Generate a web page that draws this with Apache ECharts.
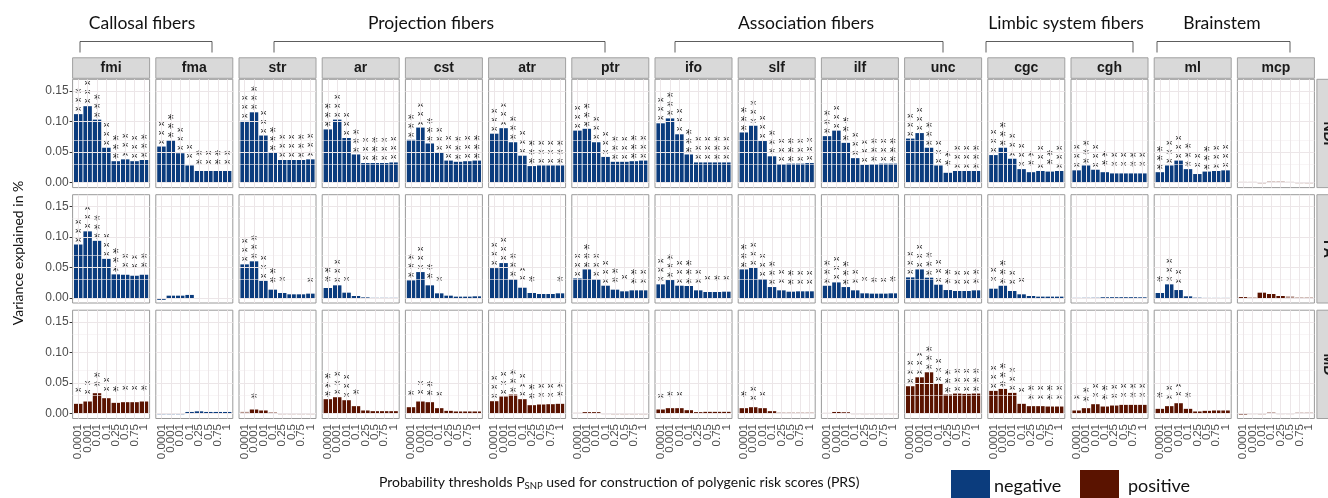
<!DOCTYPE html>
<html>
<head>
<meta charset="utf-8">
<script src="https://cdn.jsdelivr.net/npm/echarts@6/dist/echarts.min.js"></script>
<style>
html,body{margin:0;padding:0;background:#fff;}
#chart{width:1328px;height:498px;}
</style>
</head>
<body>
<div id="chart"></div>
<script>
// ---------------- DATA ----------------
const thresholds = ['0.0001','0.001','0.01','0.1','0.25','0.5','0.75','1'];
const tracts = ['fmi','fma','str','ar','cst','atr','ptr','ifo','slf','ilf','unc','cgc','cgh','ml','mcp'];
const measures = ['NDI','FA','MD'];
const groupNames = ['Callosal fibers','Projection fibers','Association fibers','Limbic system fibers','Brainstem'];
const signNames = ['negative','positive'];

// variance explained (%), per tract, per threshold
const ndiValues = [
  [0.112,0.125,0.103,0.057,0.035,0.038,0.035,0.037],
  [0.059,0.069,0.048,0.028,0.019,0.019,0.019,0.019],
  [0.101,0.115,0.077,0.049,0.037,0.037,0.037,0.038],
  [0.087,0.103,0.073,0.046,0.032,0.032,0.032,0.033],
  [0.070,0.090,0.064,0.049,0.036,0.034,0.035,0.036],
  [0.080,0.089,0.066,0.044,0.027,0.028,0.028,0.028],
  [0.085,0.088,0.066,0.042,0.034,0.034,0.035,0.036],
  [0.097,0.105,0.079,0.046,0.033,0.033,0.033,0.033],
  [0.082,0.093,0.068,0.043,0.030,0.031,0.031,0.032],
  [0.076,0.085,0.065,0.040,0.029,0.030,0.031,0.031],
  [0.072,0.081,0.057,0.028,0.016,0.019,0.019,0.019],
  [0.045,0.057,0.039,0.022,0.017,0.019,0.018,0.019],
  [0.020,0.028,0.021,0.017,0.015,0.015,0.015,0.015],
  [0.017,0.028,0.036,0.022,0.014,0.018,0.019,0.020],
  [0.0012,0.0012,0.0003,0.0018,0.0018,0.0012,0.0005,0.0004]
];
const faValues = [
  [0.0875,0.109,0.0935,0.064,0.0386,0.038,0.0364,0.038],
  [-0.003,0.0038,0.0038,0.005,-0.001,-0.001,-0.001,-0.001],
  [0.055,0.060,0.028,0.0136,0.0082,0.006,0.006,0.0071],
  [0.0163,0.0207,0.0087,0.0033,0.001,0.0005,0.0005,0.0005],
  [0.0288,0.0424,0.0207,0.0076,0.0038,0.0022,0.0022,0.0027],
  [0.0489,0.0571,0.0304,0.0168,0.0082,0.0065,0.0065,0.0076],
  [0.032,0.0467,0.0304,0.0201,0.0136,0.0109,0.0125,0.0125],
  [0.0223,0.0293,0.0201,0.0196,0.0125,0.0098,0.0098,0.0103],
  [0.0467,0.050,0.031,0.0179,0.0125,0.0103,0.0109,0.0109],
  [0.020,0.0255,0.0179,0.0125,0.0076,0.0071,0.0071,0.0076],
  [0.0337,0.0467,0.0332,0.0217,0.013,0.0114,0.0114,0.0125],
  [0.0152,0.020,0.0114,0.006,0.0033,0.0022,0.0022,0.0022],
  [0.0004,0.0006,0.0008,0.0012,0.0013,0.0013,0.0013,0.0011],
  [0.0082,0.0223,0.013,0.0027,0.001,0.0003,0.0003,0.0003],
  [0.0015,0.001,0.0087,0.0065,0.0033,0.0027,0.001,0.001]
];
const mdValues = [
  [0.0158,0.0196,0.0332,0.025,0.0174,0.0185,0.0185,0.0196],
  [-0.0015,-0.0015,-0.001,0.0025,0.0035,0.0025,0.0025,0.0025],
  [0.0027,0.0065,0.0049,0.0022,0.0003,0.0003,0.0003,0.0003],
  [0.0234,0.0266,0.0217,0.012,0.0049,0.0038,0.0038,0.0038],
  [0.0103,0.0196,0.0185,0.0087,0.0043,0.0033,0.0033,0.0033],
  [0.0201,0.0277,0.031,0.0234,0.0136,0.0147,0.0152,0.0158],
  [0.0011,0.0022,0.0022,0.0005,0.0002,0.0002,0.0002,0.0002],
  [0.0065,0.0087,0.0087,0.0054,0.0022,0.0027,0.0027,0.0027],
  [0.0087,0.0103,0.0087,0.0038,0.0016,0.0016,0.0016,0.0016],
  [0.001,0.0025,0.002,0.0005,0.0004,0.0004,0.0004,0.0004],
  [0.0446,0.0592,0.0674,0.0489,0.031,0.0326,0.0321,0.0326],
  [0.037,0.0402,0.0337,0.0158,0.012,0.012,0.0114,0.0114],
  [0.0049,0.0087,0.0152,0.0114,0.013,0.0141,0.0141,0.0141],
  [0.0076,0.012,0.0168,0.0076,0.0033,0.0043,0.0049,0.0049],
  [-0.0012,0.0005,0.0002,0.002,0.0005,0.0005,0.0015,0.0015]
];

// number of significance stars
const ndiStars = [
  [3,3,3,3,3,3,3,3],[3,3,3,2,2,2,2,2],[3,3,3,3,3,3,3,3],[3,3,3,3,3,3,3,3],
  [3,3,3,3,3,3,3,3],[3,3,3,3,3,3,3,3],[3,3,3,3,3,3,3,3],[3,3,3,3,3,3,3,3],
  [3,3,3,3,3,3,3,3],[3,3,3,3,3,3,3,3],[3,3,3,3,2,3,3,3],[3,3,3,3,2,3,2,3],
  [3,3,3,2,2,2,2,2],[3,3,3,3,2,3,3,3],[0,0,0,0,0,0,0,0]
];
const faStars = [
  [3,3,3,3,3,2,2,2],[0,0,0,0,0,0,0,0],[3,3,3,2,1,0,0,1],[2,3,1,0,0,0,0,0],
  [3,3,2,1,0,0,0,0],[3,3,3,2,1,0,0,1],[3,3,3,3,2,1,2,2],[3,3,3,3,2,1,1,1],
  [3,3,3,3,2,2,2,2],[3,3,3,2,1,1,1,1],[3,3,3,3,2,2,2,2],[2,3,2,1,0,0,0,0],
  [0,0,0,0,0,0,0,0],[1,3,2,0,0,0,0,0],[0,0,0,0,0,0,0,0]
];
const mdStars = [
  [1,2,2,2,1,1,1,1],[0,0,0,0,0,0,0,0],[0,1,0,0,0,0,0,0],[3,3,3,1,0,0,0,0],
  [1,2,2,1,0,0,0,0],[3,3,3,3,2,2,2,2],[0,0,0,0,0,0,0,0],[1,1,1,0,0,0,0,0],
  [1,2,1,0,0,0,0,0],[0,0,0,0,0,0,0,0],[3,3,3,3,3,3,3,3],[3,3,3,1,2,2,2,2],
  [1,2,2,2,2,2,2,2],[1,2,2,1,0,0,0,0],[0,0,0,0,0,0,0,0]
];

// nominal significance (1 = solid bar, 0 = faded bar)
const ndiNominal = [
  [1,1,1,1,1,1,1,1],[1,1,1,1,1,1,1,1],[1,1,1,1,1,1,1,1],[1,1,1,1,1,1,1,1],
  [1,1,1,1,1,1,1,1],[1,1,1,1,1,1,1,1],[1,1,1,1,1,1,1,1],[1,1,1,1,1,1,1,1],
  [1,1,1,1,1,1,1,1],[1,1,1,1,1,1,1,1],[1,1,1,1,1,1,1,1],[1,1,1,1,1,1,1,1],
  [1,1,1,1,1,1,1,1],[1,1,1,1,1,1,1,1],[0,0,0,0,0,0,0,0]
];
const faNominal = [
  [1,1,1,1,1,1,1,1],[1,1,1,1,0,0,0,0],[1,1,1,1,1,1,1,1],[1,1,1,1,1,0,0,0],
  [1,1,1,1,1,1,1,1],[1,1,1,1,1,1,1,1],[1,1,1,1,1,1,1,1],[1,1,1,1,1,1,1,1],
  [1,1,1,1,1,1,1,1],[1,1,1,1,1,1,1,1],[1,1,1,1,1,1,1,1],[1,1,1,1,1,1,1,1],
  [0,0,0,1,1,1,1,1],[1,1,1,1,0,0,0,0],[1,0,1,1,1,0,0,0]
];
const mdNominal = [
  [1,1,1,1,1,1,1,1],[0,0,0,1,1,1,1,1],[0,1,1,0,0,0,0,0],[1,1,1,1,1,1,1,1],
  [1,1,1,1,1,1,1,1],[1,1,1,1,1,1,1,1],[0,1,1,0,0,0,0,0],[1,1,1,1,1,1,1,1],
  [1,1,1,1,0,0,0,0],[0,1,1,0,0,0,0,0],[1,1,1,1,1,1,1,1],[1,1,1,1,1,1,1,1],
  [1,1,1,1,1,1,1,1],[1,1,1,1,1,1,1,1],[1,0,0,0,0,0,0,0]
];

// direction of association per tract
const ndiSign = ['negative','negative','negative','negative','negative','negative','negative','negative','negative','negative','negative','negative','negative','negative','positive'];
const faSign  = ['negative','negative','negative','negative','negative','negative','negative','negative','negative','negative','negative','negative','negative','negative','positive'];
const mdSign  = ['positive','negative','positive','positive','positive','positive','positive','positive','positive','positive','positive','positive','positive','positive','positive'];

const yTicks = [0, 0.05, 0.10, 0.15];
const yMinorTicks = [0.025, 0.075, 0.125];

// ---------------- LAYOUT / STYLE ----------------
const COLORS = { negative: '#0b3c7d', positive: '#5a1300' };
const L0 = 72.6, STEP = 83.2, PW = 77;
const TOPS = [79.3, 194.7, 310.2], PH = 108.3;
const YMIN = -0.0082, YMAX = 0.169;
const STAR_OFF = 0.0238;
const SANS = '"Liberation Sans", Arial, sans-serif';
const HUM = 'Lato, "Open Sans", sans-serif';

const valuesByMeasure = [ndiValues, faValues, mdValues];
const starsByMeasure = [ndiStars, faStars, mdStars];
const nominalByMeasure = [ndiNominal, faNominal, mdNominal];
const signByMeasure = [ndiSign, faSign, mdSign];

const grids = [], xAxes = [], yAxes = [], series = [];
const xIdx = thresholds.map((t, i) => i + 1);

function makeRender(color, withLabels) {
  return function (params, api) {
    const x = api.value(0), v = api.value(1), n = api.value(2), f = api.value(3);
    const a = api.coord([x - 0.45, Math.max(v, 0)]);
    const b = api.coord([x + 0.45, Math.min(v, 0)]);
    const children = [{
      type: 'rect',
      shape: { x: a[0], y: a[1], width: b[0] - a[0], height: Math.max(b[1] - a[1], 1) },
      style: { fill: color, opacity: f ? 1 : 0.45 }
    }];
    const c = api.coord([x, Math.max(v, 0) + STAR_OFF]);
    for (let k = 0; k < n; k++) {
      children.push({
        type: 'text',
        style: {
          text: '*', x: c[0], y: c[1] + (k - (n - 1) / 2) * 9 + 3.5,
          fill: '#1a1a1a', font: '12px "DejaVu Sans", sans-serif', align: 'center', verticalAlign: 'middle'
        }
      });
    }
    if (withLabels) {
      const base = api.coord([x, YMIN]);
      children.push({
        type: 'text', x: base[0], y: base[1] + 5.5, rotation: Math.PI / 2,
        style: {
          text: thresholds[params.dataIndex], x: 0, y: 0,
          fill: '#4d4d4d', font: '11.5px ' + SANS, align: 'right', verticalAlign: 'middle'
        }
      });
    }
    return { type: 'group', children };
  };
}

for (let r = 0; r < 3; r++) {
  for (let c = 0; c < tracts.length; c++) {
    const idx = r * tracts.length + c;
    grids.push({
      left: L0 + STEP * c, top: TOPS[r], width: PW, height: PH,
      show: true, borderColor: '#9a9a9a', borderWidth: 1, backgroundColor: '#fff'
    });
    xAxes.push({
      gridIndex: idx, type: 'value', min: 0.4, max: 8.6,
      splitLine: { show: false }, axisLine: { show: false },
      axisTick: r === 2 ? { show: true, customValues: xIdx, length: 3, lineStyle: { color: '#333', width: 1 } } : { show: false },
      axisLabel: { show: false }
    });
    yAxes.push({
      gridIndex: idx, type: 'value', min: YMIN, max: YMAX,
      splitLine: { show: false }, axisLine: { show: false },
      axisTick: c === 0 ? { show: true, customValues: yTicks, length: 3, lineStyle: { color: '#333', width: 1 } } : { show: false },
      axisLabel: c === 0 ? {
        show: true, customValues: yTicks, fontSize: 12, color: '#4d4d4d', fontFamily: SANS, margin: 4,
        showMinLabel: true, showMaxLabel: true,
        formatter: v => v.toFixed(2)
      } : { show: false }
    });
    const gridLines = [];
    yMinorTicks.forEach(v => gridLines.push({ yAxis: v, lineStyle: { color: '#f3eef0', width: 0.6, type: 'solid' } }));
    yTicks.forEach(v => gridLines.push({ yAxis: v, lineStyle: { color: '#ece6e8', width: 1, type: 'solid' } }));
    xIdx.forEach(v => gridLines.push({ xAxis: v, lineStyle: { color: '#ece6e8', width: 1, type: 'solid' } }));
    series.push({
      type: 'line', xAxisIndex: idx, yAxisIndex: idx, data: [], silent: true, z: 1,
      markLine: { silent: true, symbol: ['none', 'none'], label: { show: false }, animation: false, data: gridLines }
    });
    const vals = valuesByMeasure[r][c], st = starsByMeasure[r][c], nom = nominalByMeasure[r][c];
    series.push({
      type: 'custom', xAxisIndex: idx, yAxisIndex: idx, z: 3, silent: true, clip: false,
      name: signByMeasure[r][c],
      data: vals.map((v, i) => [i + 1, v, st[i], nom[i]]),
      renderItem: makeRender(COLORS[signByMeasure[r][c]], r === 2)
    });
  }
}

// ---------------- ANNOTATIONS ----------------
const graphics = [];
// top strips
tracts.forEach((t, c) => {
  const x = L0 + STEP * c;
  graphics.push({ type: 'rect', shape: { x: x, y: 57.8, width: PW, height: 20.5 },
    style: { fill: '#d9d9d9', stroke: '#a0a0a0', lineWidth: 1 }, z: 10 });
  graphics.push({ type: 'text', x: x + PW / 2, y: 68, z: 11,
    style: { text: t, font: 'bold 14px ' + SANS, fill: '#1a1a1a', align: 'center', verticalAlign: 'middle' } });
});
// right strips
const stripX = L0 + STEP * 14 + PW + 2.5;
measures.forEach((m, r) => {
  graphics.push({ type: 'rect', shape: { x: stripX, y: TOPS[r], width: 21, height: PH },
    style: { fill: '#d9d9d9', stroke: '#a0a0a0', lineWidth: 1 }, z: 10 });
  graphics.push({ type: 'text', x: stripX + 10.5, y: TOPS[r] + PH / 2, rotation: -Math.PI / 2, z: 11,
    style: { text: m, font: 'bold 14px ' + SANS, fill: '#1a1a1a', align: 'center', verticalAlign: 'middle' } });
});
// group labels and brackets
const groupSpec = [
  { cx: 142, x1: 80, x2: 212 },
  { cx: 431, x1: 274, x2: 605 },
  { cx: 806, x1: 675, x2: 943 },
  { cx: 1066, x1: 986, x2: 1133 },
  { cx: 1222, x1: 1157, x2: 1290 }
];
groupNames.forEach((g, i) => {
  const s = groupSpec[i];
  graphics.push({ type: 'text', x: s.cx, y: 23, z: 11,
    style: { text: g, font: '17.5px ' + HUM, fill: '#111', align: 'center', verticalAlign: 'middle' } });
  graphics.push({ type: 'polyline', z: 11,
    shape: { points: [[s.x1, 52.5], [s.x1, 41.5], [s.x2, 41.5], [s.x2, 52.5]] },
    style: { stroke: '#333', lineWidth: 0.8, fill: null } });
});
// axis titles
graphics.push({ type: 'text', x: 18, y: 253, rotation: Math.PI / 2, z: 11,
  style: { text: 'Variance explained in %', font: '14px ' + HUM, fill: '#111', align: 'center', verticalAlign: 'middle' } });
graphics.push({ type: 'text', x: 379, y: 482, z: 11,
  style: {
    text: '{a|Probability thresholds P}{s|SNP}{a| used for construction of polygenic risk scores (PRS)}',
    align: 'left', verticalAlign: 'middle',
    rich: {
      a: { font: '14px ' + HUM, fill: '#111', lineHeight: 20, verticalAlign: 'middle' },
      s: { font: '9.5px ' + HUM, fill: '#111', lineHeight: 20, verticalAlign: 'bottom', padding: [0, 0, 1, 0] }
    }
  } });
// legend
const legendSpec = [{ x: 951, tx: 994 }, { x: 1080, tx: 1128 }];
signNames.forEach((s, i) => {
  graphics.push({ type: 'rect', z: 11, shape: { x: legendSpec[i].x, y: 470, width: 39, height: 40 },
    style: { fill: COLORS[s] } });
  graphics.push({ type: 'text', x: legendSpec[i].tx, y: 486, z: 11,
    style: { text: s, font: '18px ' + HUM, fill: '#111', align: 'left', verticalAlign: 'middle' } });
});

const chart = echarts.init(document.getElementById('chart'), null, { renderer: 'canvas' });
chart.setOption({
  animation: false,
  backgroundColor: '#ffffff',
  grid: grids, xAxis: xAxes, yAxis: yAxes, series: series,
  graphic: { elements: graphics }
});
</script>
</body>
</html>
